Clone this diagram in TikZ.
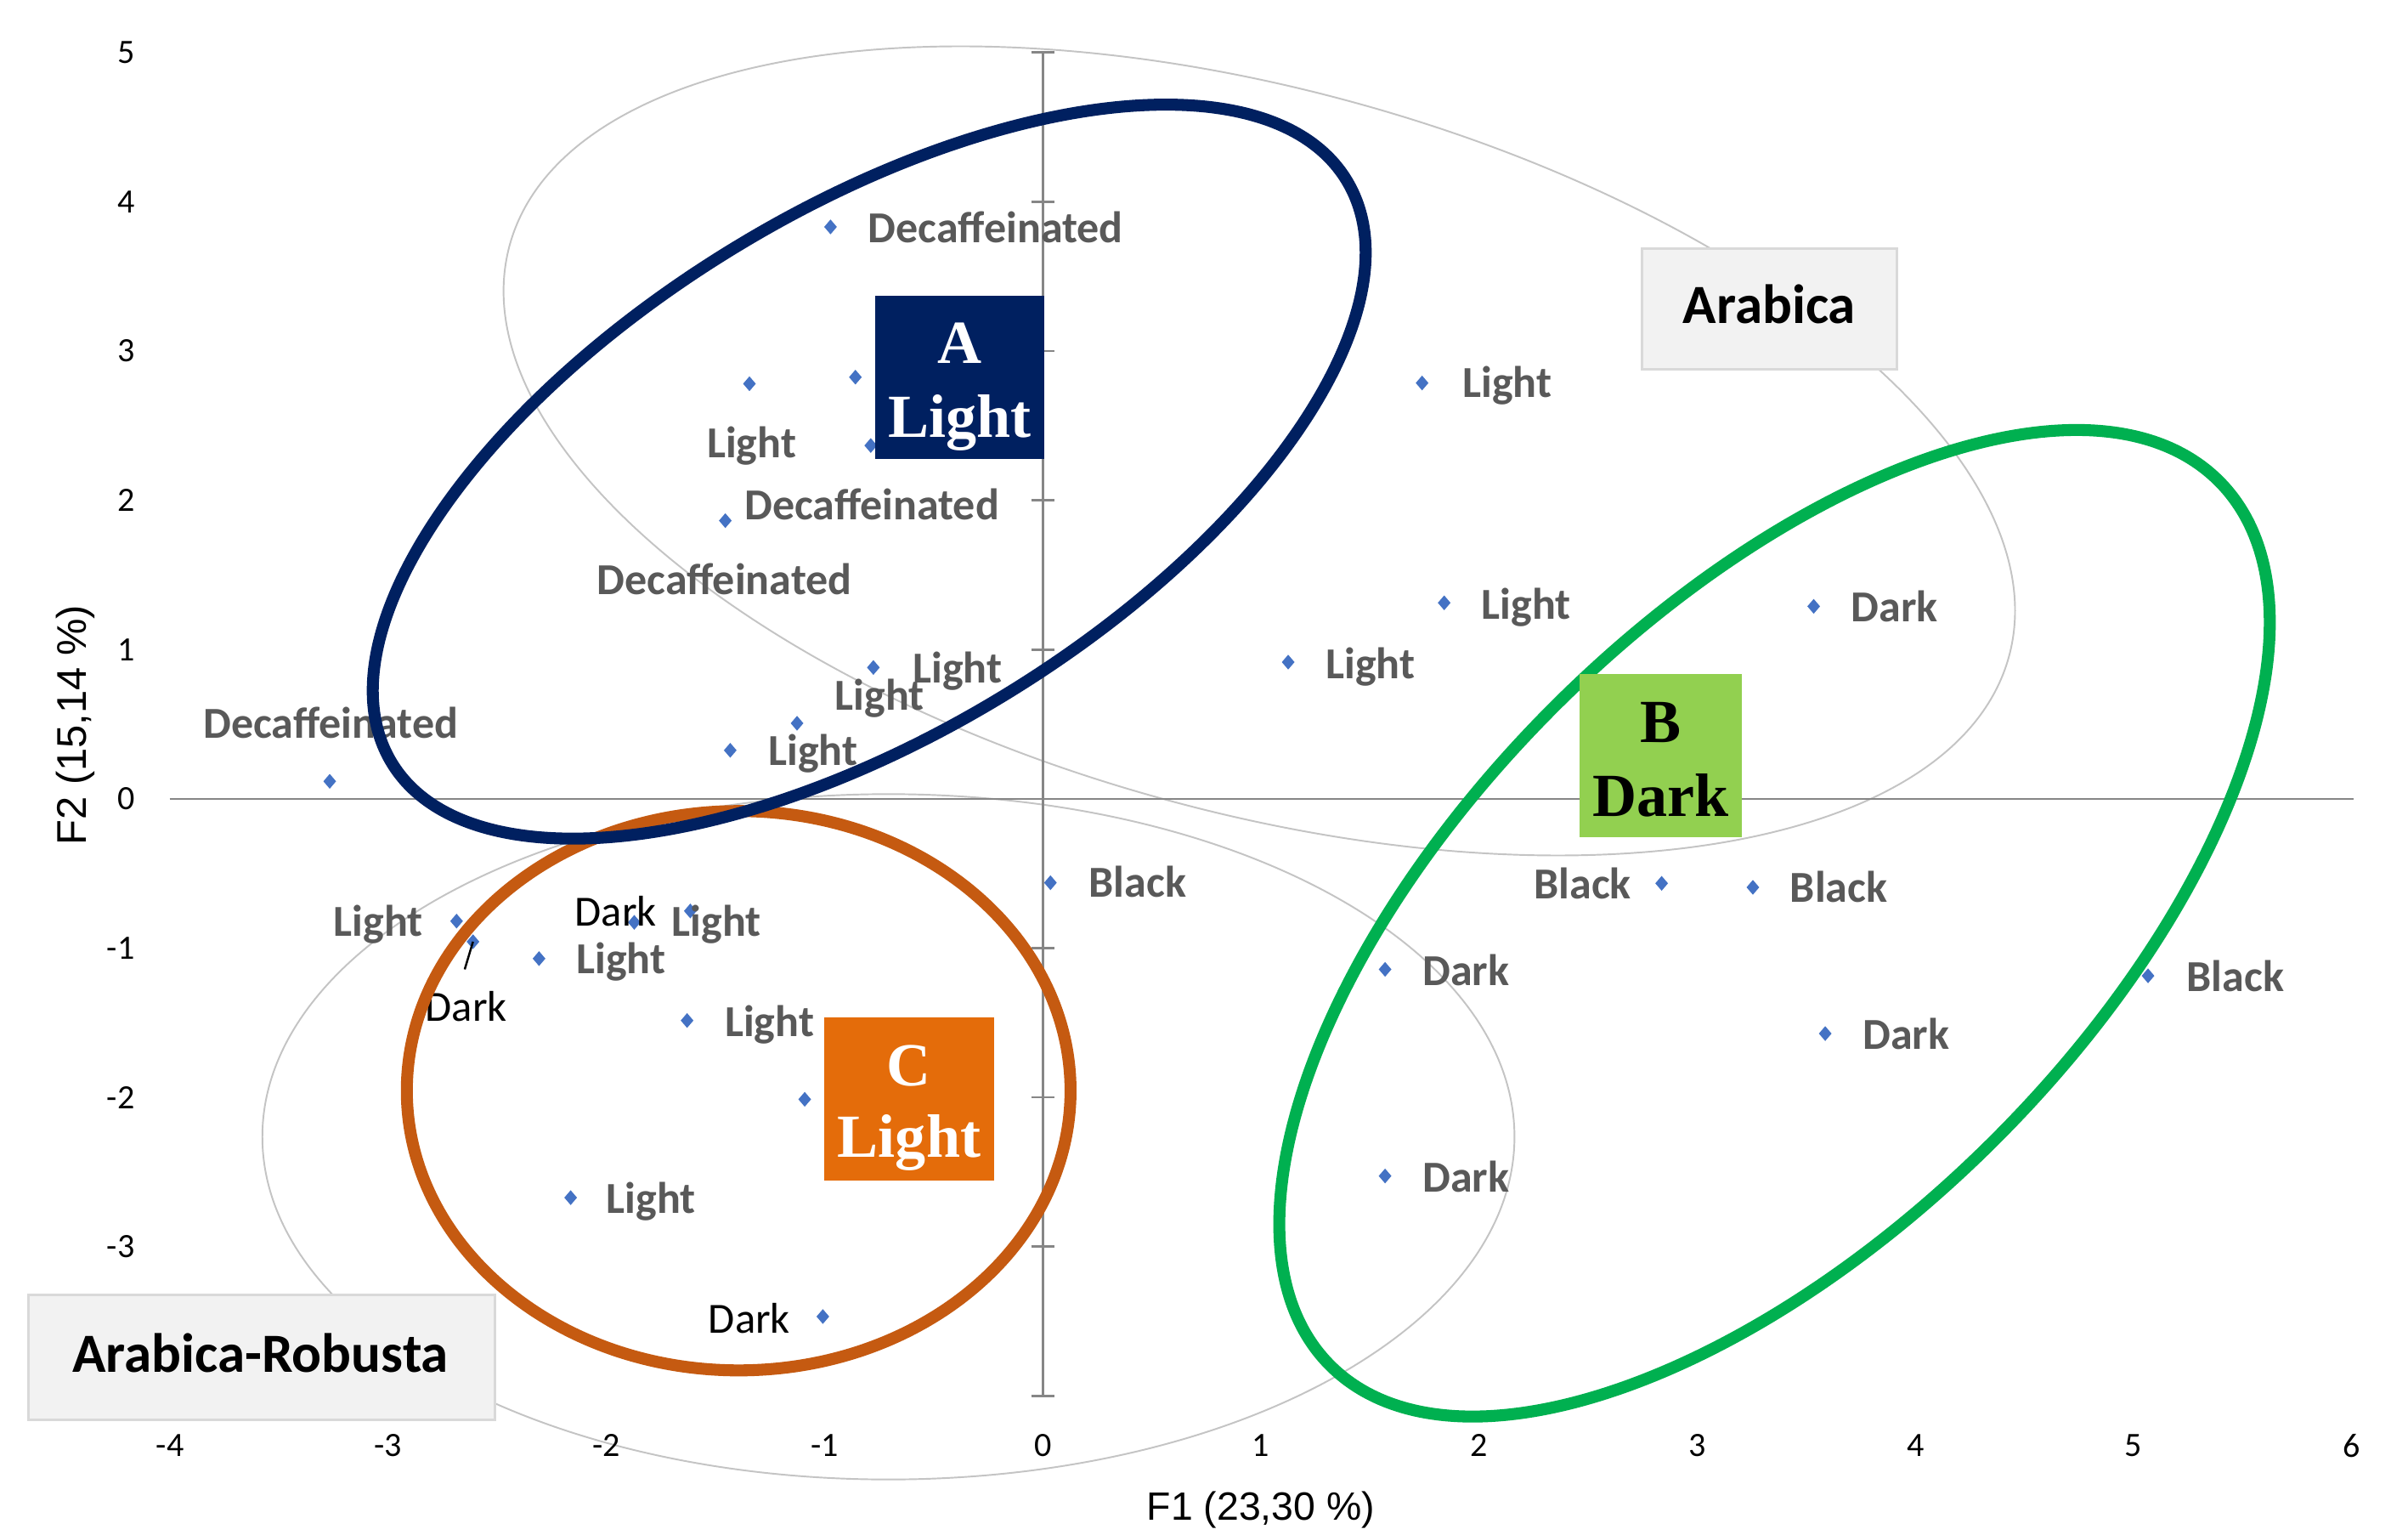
\documentclass[tikz,border=0pt]{standalone}
\usepackage{fontspec}
\setmainfont{Carlito}
\newfontfamily\arialf{Liberation Sans}
\newfontfamily\tnr{Liberation Serif}
\usetikzlibrary{shapes.geometric}
\definecolor{navyc}{HTML}{002060}
\definecolor{greenc}{HTML}{00B050}
\definecolor{orangec}{HTML}{C55A11}
\definecolor{boxgreen}{HTML}{92D050}
\definecolor{boxorange}{HTML}{E46C0A}
\definecolor{ptblue}{HTML}{4472C4}
\definecolor{lblgray}{HTML}{595959}
\definecolor{axisgray}{HTML}{868686}
\definecolor{ellgray}{HTML}{C4C4C4}
\definecolor{boxfill}{HTML}{F2F2F2}
\definecolor{boxline}{HTML}{D9D9D9}
\tikzset{
  pt/.style={diamond, fill=ptblue, inner sep=0pt, minimum width=0.155cm, minimum height=0.18cm},
  lbl/.style={font=\bfseries\fontsize{14.8}{17}\selectfont, text=lblgray, inner sep=0pt, anchor=base west},
  dlbl/.style={font=\fontsize{14.4}{17}\selectfont, text=black, inner sep=0pt, anchor=base west},
  ticklbl/.style={font=\fontsize{11.4}{13}\selectfont, text=black, inner sep=0pt},
  axisline/.style={draw=axisgray, line width=0.75pt},
  grayell/.style={draw=ellgray, line width=0.55pt},
  bigell/.style={line width=4pt},
  catbox/.style={rectangle, inner sep=0pt},
  cattxt/.style={font=\tnr\bfseries\fontsize{20.5}{24}\selectfont, inner sep=0pt, anchor=base},
  grpbox/.style={rectangle, fill=boxfill, draw=boxline, line width=0.9pt, inner sep=0pt},
  grptxt/.style={font=\bfseries\fontsize{18.5}{22}\selectfont, text=black, inner sep=0pt, anchor=base}
}
\begin{document}
\begin{tikzpicture}[x=0.018074cm, y=-0.018074cm]
\fill[white] (0,0) rectangle (1568,999);
\useasboundingbox (0,0) rectangle (1568,999);

% confidence ellipses (thin gray)
\draw[grayell, rotate around={-15.35:(820,293.5)}] (820,293.5) ellipse [x radius=9.145cm, y radius=4.247cm];
\draw[grayell] (578.5,740) ellipse [x radius=7.365cm, y radius=4.030cm];

% axes
\draw[axisline] (110.5,520) -- (1532.5,520);
\draw[axisline] (679,34.3) -- (679,908.8);
\foreach \k in {-4,...,5} {
  \draw[axisline] (671.5,{520-97.17*\k}) -- (686.5,{520-97.17*\k});
  \node[ticklbl, anchor=east] (ty\k) at (88,{520-97.17*\k}) {\k};
}
\foreach \k in {-4,...,6} {
  \node[ticklbl, anchor=center] (tx\k) at ({679+142.05*\k},941) {\k};
}
\node[font=\arialf\fontsize{13.2}{15}\selectfont, inner sep=0pt] (xlab) at (821,983) {F1 (23,30 \%)};
\node[font=\arialf\fontsize{13.9}{16}\selectfont, inner sep=0pt, rotate=90] (ylab) at (49,472) {F2 (15,14 \%)};

% data points
\node[pt] (p1) at (540.8,147.7) {};
\node[pt] (p2) at (488,249.8) {};
\node[pt] (p3) at (557,245.5) {};
\node[pt] (p4) at (567,290) {};
\node[pt] (p5) at (472.3,338.9) {};
\node[pt] (p6) at (568.7,434.5) {};
\node[pt] (p7) at (519,470.8) {};
\node[pt] (p8) at (475.5,488.4) {};
\node[pt] (p9) at (214.7,508.6) {};
\node[pt] (p10) at (926,249.3) {};
\node[pt] (p11) at (940.4,392.4) {};
\node[pt] (p12) at (838.8,431) {};
\node[pt] (p13) at (1181,394.7) {};
\node[pt] (p14) at (684,574.6) {};
\node[pt] (p15) at (1082,575) {};
\node[pt] (p16) at (1141.4,577.6) {};
\node[pt] (p17) at (901.9,631) {};
\node[pt] (p18) at (1398.7,635.2) {};
\node[pt] (p19) at (1188.5,672.8) {};
\node[pt] (p20) at (901.9,765.5) {};
\node[pt] (p21) at (297.3,599.6) {};
\node[pt] (p22) at (308,613) {};
\node[pt] (p23) at (413,600.4) {};
\node[pt] (p24) at (449.5,593) {};
\node[pt] (p25) at (351,624) {};
\node[pt] (p26) at (447.4,664.3) {};
\node[pt] (p27) at (524,715.6) {};
\node[pt] (p28) at (371.6,779.6) {};
\node[pt] (p29) at (535.8,857) {};

% data labels
\node[lbl] (l1) at (565,157.7) {Decaffeinated};
\node[lbl] (l2) at (460,298) {Light};
\node[lbl] (l3) at (484.4,338.3) {Decaffeinated};
\node[lbl] (l4) at (388.4,387) {Decaffeinated};
\node[lbl] (l5) at (594,444.8) {Light};
\node[lbl] (l6) at (543.4,462) {Light};
\node[lbl] (l7) at (500,498) {Light};
\node[lbl] (l8) at (132,480.4) {Decaffeinated};
\node[lbl] (l9) at (952,258.9) {Light};
\node[lbl] (l10) at (964.4,403) {Light};
\node[lbl] (l11) at (862.9,441.7) {Light};
\node[lbl] (l12) at (1205,404.8) {Dark};
\node[lbl] (l13) at (708.8,584.2) {Black};
\node[lbl] (l14) at (998.5,585) {Black};
\node[lbl] (l15) at (1165.3,587.4) {Black};
\node[lbl] (l16) at (926,641.6) {Dark};
\node[lbl] (l17) at (1423.6,645.5) {Black};
\node[lbl] (l18) at (1212.6,683.1) {Dark};
\node[lbl] (l19) at (926,775.7) {Dark};
\node[lbl] (l20) at (217,609.7) {Light};
\node[dlbl] (l21) at (276.7,664.6) {Dark};
\node[dlbl] (l22) at (374,603) {Dark};
\node[lbl] (l23) at (437,609.7) {Light};
\node[lbl] (l24) at (375,633.5) {Light};
\node[lbl] (l25) at (471.6,674.6) {Light};
\node[lbl] (l26) at (394.6,790) {Light};
\node[dlbl] (l27) at (461,867.6) {Dark};
\coordinate (lead) at (302.6,631);
\draw[black, line width=0.7pt] (p22.center) -- (lead);

% group ellipses
\draw[bigell, draw=orangec] (481,710) ellipse [x radius=3.904cm, y radius=3.289cm];
\draw[bigell, draw=navyc, rotate around={31.4:(566,307)}] (566,307) ellipse [x radius=6.579cm, y radius=3.073cm];
\draw[bigell, draw=greenc, rotate around={44.8:(1155.5,601)}] (1155.5,601) ellipse [x radius=7.374cm, y radius=3.633cm];

% category boxes
\node[catbox, fill=navyc, minimum width=1.988cm, minimum height=1.914cm] (boxa) at (625,245.75) {};
\node[cattxt, text=white] (boxa1) at (625,236.6) {A};
\node[cattxt, text=white] (boxa2) at (625,284.7) {Light};
\node[catbox, fill=boxgreen, minimum width=1.909cm, minimum height=1.918cm] (boxb) at (1081.4,491.95) {};
\node[cattxt, text=black] (boxb1) at (1081.4,483.2) {B};
\node[cattxt, text=black] (boxb2) at (1081.4,531.2) {Dark};
\node[catbox, fill=boxorange, minimum width=1.990cm, minimum height=1.918cm] (boxc) at (592,715.55) {};
\node[cattxt, text=white] (boxc1) at (592,707) {C};
\node[cattxt, text=white] (boxc2) at (592,753.4) {Light};

% group label boxes
\node[grpbox, minimum width=3.0cm, minimum height=1.417cm] (arab) at (1152.2,201.05) {};
\node[grptxt] (arabt) at (1152.2,210.3) {Arabica};
\node[grpbox, minimum width=5.482cm, minimum height=1.468cm] (arob) at (170.4,883.75) {};
\node[grptxt] (arobt) at (169.7,893) {Arabica-Robusta};
\end{tikzpicture}
\end{document}
